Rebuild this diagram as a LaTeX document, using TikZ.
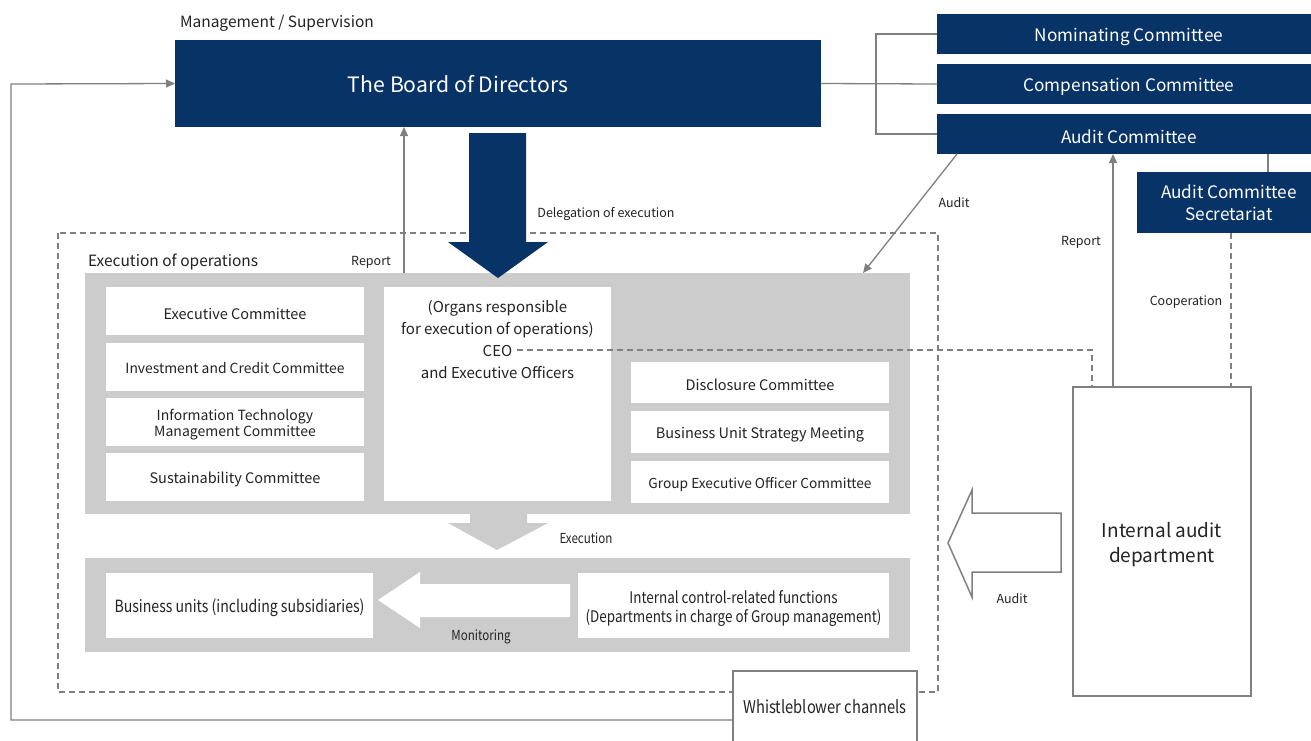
\documentclass[tikz,border=0pt]{standalone}
\usepackage{fontspec}
\setmainfont{Noto Sans CJK JP}
\newfontfamily\condf[FakeStretch=0.84]{Noto Sans CJK JP}
\usetikzlibrary{arrows.meta}
\definecolor{navy}{RGB}{7,51,102}
\definecolor{lgray}{RGB}{128,128,128}
\definecolor{bgray}{RGB}{204,204,204}
\definecolor{tdark}{RGB}{35,35,35}
\begin{document}
\begin{tikzpicture}[x=1pt,y=-1pt,
  every node/.style={inner sep=0pt,outer sep=0pt,text=tdark},
  navybox/.style={fill=navy},
  navylab/.style={text=white,yshift=-3pt,font=\fontsize{17.2}{21}\selectfont},
  whitebox/.style={fill=white},
  wlab/.style={yshift=-2.7pt,align=center,font=\fontsize{14.5}{17}\selectfont},
  graybg/.style={fill=bgray},
  conn/.style={draw=lgray,line width=1.3pt},
  dconn/.style={draw=lgray,line width=1.3pt,dash pattern=on 6pt off 4pt},
  tip/.style={-{Triangle[length=9pt,width=8pt]}},
  small/.style={yshift=-2pt,font=\fontsize{12.5}{15}\selectfont},
  smallc/.style={yshift=-2pt,font=\condf\fontsize{13.8}{15}\selectfont}
]
\useasboundingbox (0,0) rectangle (1311,740);
\fill[white] (0,0) rectangle (1311,740);

% outer dashed region
\draw[dconn] (58,233) rectangle (938,692);
\node[anchor=west,yshift=-2pt,font=\fontsize{15.5}{18}\selectfont] (execlbl) at (88,260) {Execution of operations};

% gray backgrounds
\node[graybg,minimum width=825pt,minimum height=241pt] (exec) at (497.5,393.5) {};
\node[graybg,minimum width=825pt,minimum height=94pt] (ops) at (497.5,605) {};

% management
\node[anchor=west,yshift=-2pt,font=\fontsize{15.5}{18}\selectfont] (mgmt) at (180,21) {Management / Supervision};
\node[fill=navy,minimum width=646pt,minimum height=87pt] (board) at (498,83.5) {};
\node[text=white,font=\fontsize{21.2}{25}\selectfont] (boardtxt) at (458,84) {The Board of Directors};

% committees
\node[navybox,minimum width=384pt,minimum height=40pt,label={[navylab]center:Nominating Committee}] (nom) at (1129,34) {};
\node[navybox,minimum width=384pt,minimum height=40pt,label={[navylab]center:Compensation Committee}] (comp) at (1129,84) {};
\node[navybox,minimum width=384pt,minimum height=40pt,label={[navylab]center:Audit Committee}] (audc) at (1129,134) {};
\node[navybox,text=white,align=center,minimum width=184pt,minimum height=61pt,font=\fontsize{17.2}{22}\selectfont] (sec) at (1229,202.5) {Audit Committee\\Secretariat};

\draw[conn] (board.east) -- (comp.west);
\draw[conn] (nom.west) -- ++(-61,0) |- (audc.west);
\coordinate (secA) at (1268,154);
\coordinate (secB) at (1268,172);
\draw[conn] (secA) -- (secB);

% delegation arrow
\fill[navy] (469,133) -- (526,133) -- (526,242) -- (548,242) -- (498,278) -- (448,242) -- (469,242) -- cycle;
\node[small] (deleg) at (606,212) {Delegation of execution};

% report to board
\coordinate (rep1) at (404,273);
\coordinate (rep2) at (404,127);
\draw[conn,tip] (rep1) -- (rep2);
\node[small] (replbl) at (371,260) {Report};

% audit from audit committee
\coordinate (au1) at (957,154);
\coordinate (au2) at (863,273);
\draw[conn,tip] (au1) -- (au2);
\node[small] (audlbl1) at (954,201) {Audit};

% left white boxes
\node[whitebox,minimum width=258pt,minimum height=48pt,label={[wlab]center:Executive Committee}] (ec) at (235,311) {};
\node[whitebox,minimum width=258pt,minimum height=48pt,label={[wlab,yshift=2pt,font=\fontsize{13.9}{17}\selectfont]center:Investment and Credit Committee}] (icc) at (235,367) {};
\node[whitebox,minimum width=258pt,minimum height=48pt,label={[wlab,font=\fontsize{14}{16}\selectfont]center:Information Technology\\Management Committee}] (itm) at (235,422) {};
\node[whitebox,minimum width=258pt,minimum height=48pt,label={[wlab]center:Sustainability Committee}] (sus) at (235,477) {};

% CEO box
\node[fill=white,minimum width=227pt,minimum height=214pt] (ceo) at (497.5,394) {};
\node[anchor=north,align=center,font=\fontsize{15}{22.2}\selectfont] (ceotxt) at (497.5,300) {(Organs responsible\\for execution of operations)\\CEO\hspace*{20pt}\\and Executive Officers};

% right white boxes
\node[whitebox,minimum width=258pt,minimum height=41pt,label={[wlab]center:Disclosure Committee}] (disc) at (760,382.5) {};
\node[whitebox,minimum width=258pt,minimum height=42pt,label={[wlab]center:Business Unit Strategy Meeting}] (bus) at (760,432) {};
\node[whitebox,minimum width=258pt,minimum height=42pt,label={[wlab,font=\fontsize{13.7}{17}\selectfont]center:Group Executive Officer Committee}] (gec) at (760,482) {};

% execution arrow
\fill[bgray] (470,514) -- (527,514) -- (527,523) -- (548,523) -- (497,550) -- (448,523) -- (470,523) -- cycle;
\node[smallc] (execl) at (586,536) {Execution};

% ops boxes
\node[whitebox,minimum width=267pt,minimum height=65pt,label={[wlab,font=\condf\fontsize{16.8}{19}\selectfont]center:Business units (including subsidiaries)}] (bu) at (239.5,605.5) {};
\node[whitebox,minimum width=311pt,minimum height=65pt,label={[wlab,font=\condf\fontsize{16}{19}\selectfont]center:Internal control-related functions\\(Departments in charge of Group management)}] (ic) at (733.5,605.5) {};

% monitoring arrow
\fill[white] (570,584) -- (420,584) -- (420,572) -- (378,600) -- (420,628) -- (420,617) -- (570,617) -- cycle;
\node[smallc] (monl) at (481,635) {Monitoring};

% internal audit department
\node[draw=lgray,line width=1.5pt,fill=white,minimum width=178pt,minimum height=309pt,label={[wlab,font=\fontsize{19}{25}\selectfont]center:Internal audit\\department}] (iad) at (1162,541.5) {};

\coordinate (rp1) at (1113,387);
\coordinate (rp2) at (1113,154);
\draw[conn,tip] (rp1) -- (rp2);
\node[small] (replbl2) at (1081,240) {Report};

\coordinate (co1) at (1231,233);
\coordinate (co2) at (1231,387);
\draw[dconn] (co1) -- (co2);
\node[small] (coop) at (1186,300) {Cooperation};

\coordinate (ceoend) at (517,350);
\coordinate (ceocorner) at (1092,350);
\coordinate (iadtop) at (1092,387);
\draw[dconn] (ceoend) -- (ceocorner) -- (iadtop);

% audit block arrow
\draw[lgray,line width=1.5pt,fill=white,line join=miter] (1061,513) -- (972,513) -- (972,490) -- (948,543) -- (972,597) -- (972,572) -- (1061,572) -- cycle;
\node[small] (audlbl2) at (1012,597) {Audit};

% whistleblower
\node[draw=lgray,line width=1.2pt,fill=white,minimum width=184pt,minimum height=78pt] (wb) at (825,710) {};
\node[font=\condf\fontsize{17.5}{19}\selectfont] (wbtxt) at (825,707) {Whistleblower channels};
\coordinate (wbl) at (733,720);
\coordinate (lc1) at (11,720);
\coordinate (lc2) at (11,84);
\draw[conn,tip] (wbl) -- (lc1) -- (lc2) -- (board.west);
\end{tikzpicture}
\end{document}
